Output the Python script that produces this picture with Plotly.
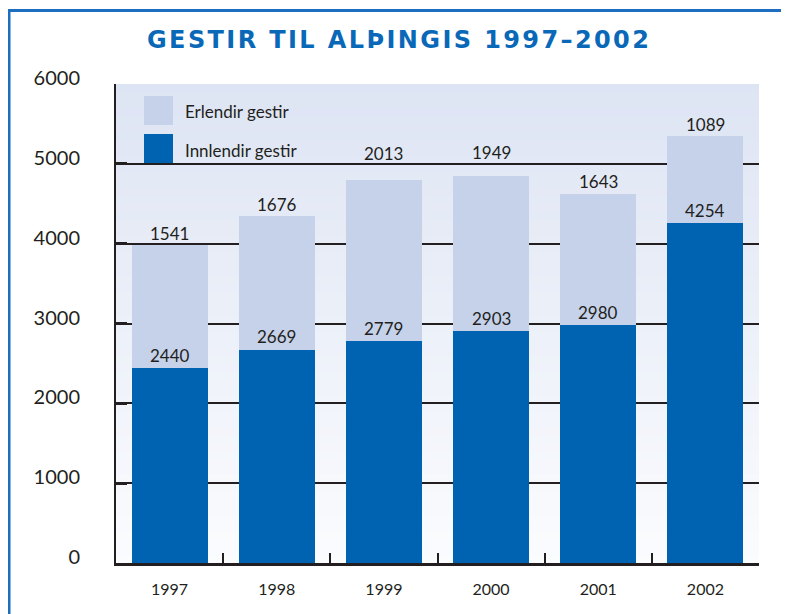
import plotly.graph_objects as go

# ---- data ----
years = ["1997", "1998", "1999", "2000", "2001", "2002"]
innlendir = [2440, 2669, 2779, 2903, 2980, 4254]
erlendir = [1541, 1676, 2013, 1949, 1643, 1089]
y_ticks = [0, 1000, 2000, 3000, 4000, 5000, 6000]
title_text = "GESTIR TIL ALÞINGIS 1997–2002"
legend_names = ["Erlendir gestir", "Innlendir gestir"]

# ---- style ----
OFF = 8  # page body margin offset
W, H = 789 - OFF, 614 - OFF
ML, MR, MT, MB = 116 - OFF, 30, 84 - OFF, 51
PW, PH = W - ML - MR, H - MT - MB
DARK = "#0063b1"
LIGHT = "#c5d2ea"
TXT = "#231f20"
FONT = "Lato"
erl_shift = [12, 12, 27, 23, 12, 12]   # label lift above bar top (px)


def px_x(p):  # reference page pixel -> paper
    return (p - OFF - ML) / PW


def px_y(p):
    return (H - MB - (p - OFF)) / PH


fig = go.Figure()
fig.add_trace(go.Bar(x=years, y=innlendir, name=legend_names[1],
                     marker=dict(color=DARK, line=dict(width=0)), showlegend=False))
fig.add_trace(go.Bar(x=years, y=erlendir, name=legend_names[0],
                     marker=dict(color=LIGHT, line=dict(width=0)), showlegend=False))

annotations = []
for i, yr in enumerate(years):
    annotations.append(dict(x=i, y=innlendir[i], xref="x", yref="y", text=str(innlendir[i]),
                            showarrow=False, yanchor="middle", yshift=13,
                            font=dict(family=FONT, size=17, color=TXT)))
    total = innlendir[i] + erlendir[i]
    annotations.append(dict(x=i, y=total, xref="x", yref="y", text=str(erlendir[i]),
                            showarrow=False, yanchor="middle", yshift=erl_shift[i],
                            font=dict(family=FONT, size=17, color=TXT)))

shapes = []

# gradient background of plot area
top_c = (221, 228, 243)
bot_c = (251, 252, 254)
n = 60
for k in range(n):
    t = (k + 0.5) / n
    c = tuple(round(top_c[j] + (bot_c[j] - top_c[j]) * t) for j in range(3))
    shapes.append(dict(type="rect", xref="paper", yref="paper",
                       x0=0, x1=1, y0=1 - (k + 1) / n - 0.001, y1=1 - k / n,
                       fillcolor="rgb(%d,%d,%d)" % c, line=dict(width=0), layer="below"))

# legend (custom, large squares)
leg_rows = [(96, 125, LIGHT, legend_names[0], 112), (134, 163, DARK, legend_names[1], 150)]
for y0, y1, col, name, ty in leg_rows:
    shapes.append(dict(type="rect", xref="paper", yref="paper",
                       x0=px_x(144), x1=px_x(173), y0=px_y(y1), y1=px_y(y0),
                       fillcolor=col, line=dict(width=0), layer="above"))
    annotations.append(dict(x=px_x(183), y=px_y(ty), xref="paper", yref="paper",
                            text=name, showarrow=False, xanchor="left", yanchor="middle",
                            font=dict(family=FONT, size=17, color=TXT)))

# outer blue frame
FRAME = "#1c6fc0"
shapes.append(dict(type="line", xref="paper", yref="paper",
                   x0=px_x(8), x1=px_x(800), y0=px_y(10.5), y1=px_y(10.5),
                   line=dict(color=FRAME, width=3), layer="above"))
shapes.append(dict(type="line", xref="paper", yref="paper",
                   x0=px_x(9), x1=px_x(9), y0=px_y(9), y1=px_y(640),
                   line=dict(color=FRAME, width=3), layer="above"))

# title (letter-spaced with hair spaces)
spaced = "\u200a".join(list(title_text))
annotations.append(dict(x=px_x(398), y=px_y(40), xref="paper", yref="paper",
                        text="<b>" + spaced + "</b>", showarrow=False,
                        xanchor="center", yanchor="middle",
                        font=dict(family="DejaVu Sans", size=24, color="#0a68b8")))

fig.update_layout(
    barmode="stack", bargap=0.29,
    width=W, height=H,
    margin=dict(l=ML, r=MR, t=MT, b=MB, pad=0),
    paper_bgcolor="white", plot_bgcolor="rgba(0,0,0,0)",
    shapes=shapes, annotations=annotations,
    font=dict(family=FONT, color=TXT),
)
fig.update_xaxes(type="category", showgrid=False, showline=True, linecolor=TXT, linewidth=3,
                 ticks="inside", tickson="boundaries", ticklen=10, tickwidth=2,
                 tickcolor=TXT, tickfont=dict(family=FONT, size=16, color=TXT),
                 ticklabelstandoff=10, range=[-0.5, 5.5], fixedrange=True)
fig.update_yaxes(range=[0, 6000], tickvals=y_ticks, ticktext=[str(v) for v in y_ticks],
                 showgrid=True, gridcolor=TXT, gridwidth=2, zeroline=False,
                 showline=True, linecolor=TXT, linewidth=2, mirror=False,
                 ticks="inside", ticklen=11, tickwidth=3, tickcolor=TXT,
                 tickfont=dict(family=FONT, size=20, color=TXT),
                 ticklabelstandoff=30, ticklabelshift=-6, fixedrange=True)

fig.write_html("out.html")
